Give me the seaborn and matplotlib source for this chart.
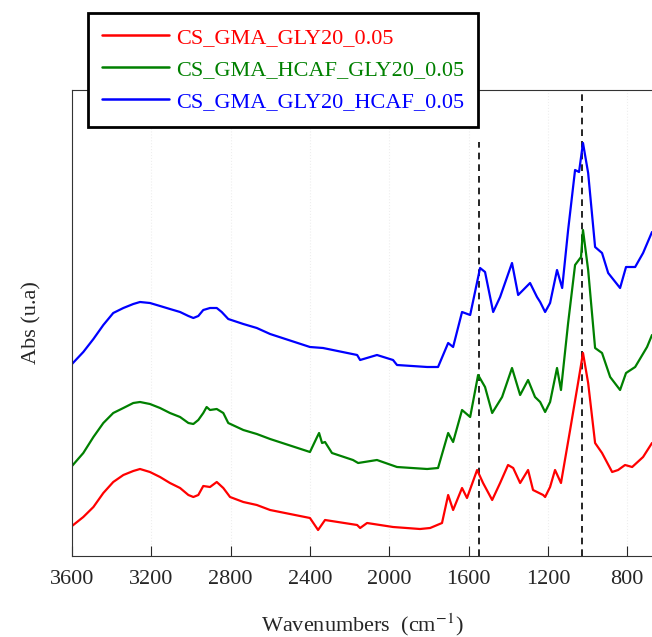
import pandas as pd
import seaborn as sns
import matplotlib.pyplot as plt

# wavenumber (cm-1) / absorbance (arbitrary, offset)
red_wn = [3600, 3543, 3492, 3442, 3392, 3341, 3291, 3257, 3207, 3156, 3106, 3055, 3013,
          2988, 2963, 2938, 2904, 2870, 2837, 2803, 2736, 2668, 2601, 2400, 2359,
          2324, 2162, 2147, 2112, 1981, 1845, 1794, 1734, 1703, 1678, 1633, 1608, 1557,
          1527, 1481, 1441, 1401, 1375, 1340, 1300, 1275, 1224, 1214, 1189, 1164, 1134,
          1088, 1048, 1023, 997, 962, 927, 876, 846, 811, 775, 720, 675]
red_abs = [0.30, 0.39, 0.49, 0.63, 0.74, 0.81, 0.85, 0.87, 0.84, 0.79, 0.73, 0.68, 0.61,
           0.59, 0.61, 0.70, 0.69, 0.74, 0.68, 0.59, 0.54, 0.51, 0.46, 0.38, 0.26,
           0.36, 0.31, 0.28, 0.33, 0.29, 0.27, 0.28, 0.33, 0.61, 0.46, 0.68, 0.58, 0.86,
           0.73, 0.56, 0.73, 0.91, 0.88, 0.73, 0.86, 0.66, 0.61, 0.59, 0.69, 0.86, 0.73,
           1.26, 1.73, 2.03, 1.73, 1.13, 1.03, 0.84, 0.86, 0.91, 0.89, 0.99, 1.13]

green_wn = [3600, 3543, 3492, 3442, 3392, 3341, 3291, 3257, 3207, 3156, 3106, 3055, 3013,
            2988, 2963, 2938, 2921, 2904, 2870, 2837, 2812, 2736, 2668, 2601, 2400,
            2364, 2354, 2339, 2324, 2289, 2183, 2157, 2062, 1961, 1809, 1754, 1703, 1678,
            1633, 1592, 1552, 1517, 1481, 1431, 1381, 1340, 1300, 1265, 1239, 1214, 1189,
            1154, 1134, 1098, 1063, 1033, 1023, 997, 962, 927, 886, 836, 806, 760, 700, 675]
green_abs = [0.90, 1.03, 1.19, 1.33, 1.43, 1.48, 1.53, 1.54, 1.52, 1.48, 1.43, 1.39, 1.33,
             1.32, 1.36, 1.43, 1.49, 1.46, 1.47, 1.43, 1.33, 1.26, 1.22, 1.17, 1.04,
             1.19, 1.23, 1.13, 1.14, 1.03, 0.96, 0.93, 0.96, 0.89, 0.87, 0.88, 1.23, 1.14,
             1.46, 1.39, 1.81, 1.69, 1.43, 1.59, 1.88, 1.61, 1.76, 1.59, 1.54, 1.44, 1.54,
             1.88, 1.66, 2.33, 2.91, 2.99, 3.26, 2.86, 2.08, 2.03, 1.79, 1.66, 1.83, 1.89,
             2.09, 2.21]

blue_wn = [3600, 3543, 3492, 3442, 3392, 3341, 3291, 3257, 3207, 3156, 3106, 3055, 3013,
           2988, 2963, 2938, 2904, 2870, 2845, 2812, 2736, 2668, 2601, 2400, 2334, 2162,
           2147, 2062, 1981, 1961, 1809, 1754, 1703, 1678, 1633, 1592, 1542, 1517, 1476,
           1441, 1381, 1350, 1290, 1255, 1239, 1214, 1189, 1154, 1128, 1098, 1063, 1043,
           1023, 997, 962, 927, 896, 836, 806, 760, 720, 675]
blue_abs = [1.92, 2.04, 2.17, 2.31, 2.43, 2.48, 2.52, 2.54, 2.53, 2.50, 2.47, 2.44, 2.40,
            2.38, 2.40, 2.46, 2.48, 2.48, 2.44, 2.37, 2.32, 2.28, 2.22, 2.09, 2.08, 2.01,
            1.96, 2.01, 1.96, 1.91, 1.89, 1.89, 2.13, 2.09, 2.44, 2.41, 2.88, 2.84, 2.44,
            2.59, 2.93, 2.61, 2.73, 2.59, 2.54, 2.44, 2.53, 2.86, 2.68, 3.26, 3.86, 3.84,
            4.13, 3.83, 3.09, 3.03, 2.83, 2.68, 2.89, 2.89, 3.03, 3.24]

samples = ['CS_GMA_GLY20_0.05', 'CS_GMA_HCAF_GLY20_0.05', 'CS_GMA_GLY20_HCAF_0.05']
colors = ['#ff0000', '#008000', '#0000ff']

# dashed marker lines: position and top of the line
mark_wn = [1547, 1028]
mark_top = [4.14, 4.66]

xticks = [3600, 3200, 2800, 2400, 2000, 1600, 1200, 800]

frames = []
for name, wn, ab in zip(samples, [red_wn, green_wn, blue_wn], [red_abs, green_abs, blue_abs]):
    frames.append(pd.DataFrame({'wn': wn, 'abs': ab, 'sample': name}))
df = pd.concat(frames, ignore_index=True)

sns.set_style('white')
plt.rcParams['font.family'] = ['Liberation Serif', 'DejaVu Serif']
plt.rcParams['mathtext.fontset'] = 'stix'

fig = plt.figure(figsize=(6.52, 6.37), dpi=100)
ax = fig.add_axes([72 / 652, 1 - 556 / 637, 1 - 72 / 652, (556 - 90) / 637])

sns.lineplot(data=df, x='wn', y='abs', hue='sample', hue_order=samples,
             palette=colors, estimator=None, sort=False, lw=1.6, ax=ax, legend=False)

for wn, top in zip(mark_wn, mark_top):
    ax.vlines(wn, 0, top, colors='black', linestyles=(0, (4, 3)), lw=1.2, zorder=1)

ax.set_xlim(3600, 675)
ax.set_ylim(0, 4.66)
ax.set_xticks(xticks)
ax.set_yticks([])
ax.tick_params(axis='x', direction='in', length=7, width=0.8, labelsize=16, pad=10,
               bottom=True)
ax.xaxis.grid(True, color='#eeeeee', linestyle=':', lw=0.8)
ax.spines['right'].set_visible(False)
for s in ['left', 'bottom', 'top']:
    ax.spines[s].set_color('#333333')
    ax.spines[s].set_linewidth(0.8)

ax.set_xlabel('Wavenumbers  (cm$^{-1}$)', fontsize=16, labelpad=16)
ax.set_ylabel('Abs (u.a)', fontsize=16, labelpad=22)

handles = [plt.Line2D([], [], color=c, lw=1.8) for c in colors]
leg = fig.legend(handles, samples, loc='upper left', bbox_to_anchor=(88 / 652, 1 - 13 / 637),
                 fontsize=16, frameon=True, fancybox=False, framealpha=1,
                 edgecolor='black', handlelength=3.0, handletextpad=0.3,
                 borderpad=0.65, labelspacing=0.52, borderaxespad=0)
leg.get_frame().set_linewidth(2)
for txt, c in zip(leg.get_texts(), colors):
    txt.set_color(c)

fig.savefig('out.png', dpi=100)
